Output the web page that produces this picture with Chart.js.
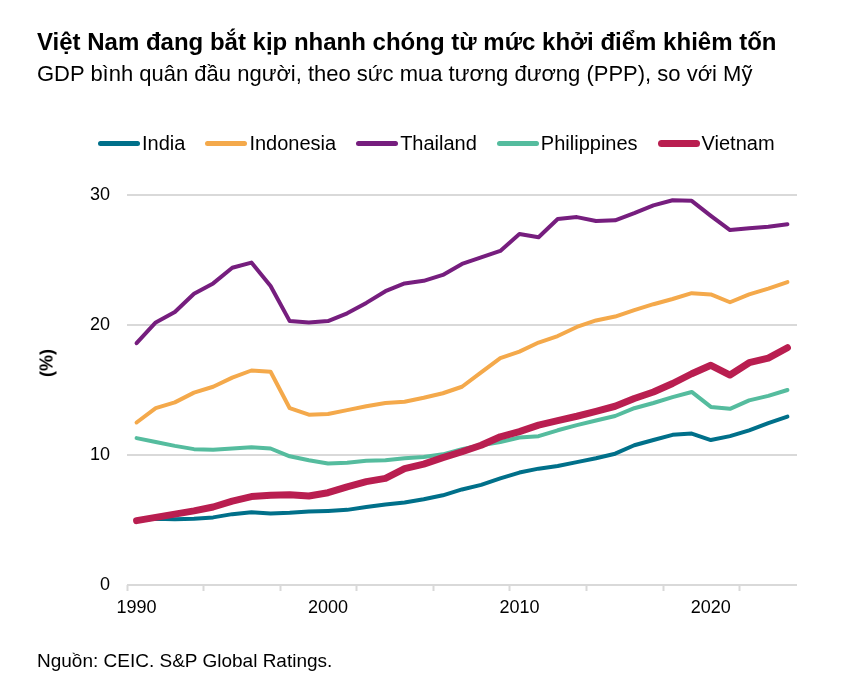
<!DOCTYPE html>
<html>
<head>
<meta charset="utf-8">
<script src="https://cdn.jsdelivr.net/npm/chart.js@4.4.1/dist/chart.umd.min.js"></script>
<style>
  html, body { margin: 0; padding: 0; background: #fff; }
  body { width: 842px; height: 686px; position: relative; overflow: hidden; font-family: "Liberation Sans", Arial, sans-serif; color: #000; }
  #title { position: absolute; left: 37px; top: 28px; font-size: 24px; font-weight: bold; white-space: nowrap; line-height: 28px; }
  #subtitle { position: absolute; left: 37px; top: 61px; font-size: 22px; white-space: nowrap; line-height: 26px; }
  #legend { position: absolute; left: 98px; top: 131px; display: flex; gap: 20px; font-size: 20px; line-height: 24px; white-space: nowrap; }
  .li { display: flex; align-items: center; }
  .sw { display: inline-block; width: 42px; height: 5px; border-radius: 3px; margin-right: 2px; }
  #ytitle { position: absolute; left: 47px; top: 363px; transform: translate(-50%, -50%) rotate(-90deg); font-size: 18px; font-weight: bold; white-space: nowrap; }
  #footer { position: absolute; left: 37px; top: 650px; font-size: 19px; white-space: nowrap; line-height: 22px; }
  #wrap { position: absolute; left: 0; top: 0; width: 842px; height: 686px; }
</style>
</head>
<body>
<div id="wrap"><canvas id="c" width="842" height="686"></canvas></div>
<div id="title">Việt Nam đang bắt kịp nhanh chóng từ mức khởi điểm khiêm tốn</div>
<div id="subtitle">GDP bình quân đầu người, theo sức mua tương đương (PPP), so với Mỹ</div>
<div id="legend"></div>
<div id="ytitle">(%)</div>
<div id="footer">Nguồn: CEIC. S&amp;P Global Ratings.</div>
<script>
// Years 1990–2024
const years = ["1990","1991","1992","1993","1994","1995","1996","1997","1998","1999",
  "2000","2001","2002","2003","2004","2005","2006","2007","2008","2009",
  "2010","2011","2012","2013","2014","2015","2016","2017","2018","2019",
  "2020","2021","2022","2023","2024"];

const india = [5.0,5.1,5.05,5.1,5.2,5.45,5.6,5.5,5.55,5.65,
  5.7,5.78,6.0,6.2,6.35,6.6,6.9,7.35,7.7,8.2,
  8.65,8.95,9.15,9.45,9.75,10.1,10.75,11.15,11.55,11.65,
  11.15,11.45,11.9,12.45,12.95];

const indonesia = [12.5,13.6,14.05,14.8,15.25,15.95,16.5,16.4,13.6,13.1,
  13.15,13.45,13.75,14.0,14.1,14.4,14.75,15.25,16.35,17.45,
  17.95,18.65,19.15,19.85,20.35,20.65,21.15,21.6,22.0,22.45,
  22.35,21.75,22.35,22.8,23.3];

const thailand = [18.6,20.2,21.0,22.4,23.2,24.4,24.8,23.0,20.3,20.2,
  20.3,20.9,21.7,22.6,23.2,23.4,23.85,24.7,25.2,25.7,
  27.0,26.75,28.15,28.3,28.0,28.05,28.6,29.2,29.6,29.55,
  28.4,27.3,27.45,27.55,27.75];

const philippines = [11.3,11.0,10.7,10.45,10.4,10.5,10.6,10.5,9.9,9.6,
  9.35,9.4,9.55,9.6,9.75,9.85,10.05,10.45,10.75,11.0,
  11.35,11.45,11.9,12.3,12.65,13.0,13.6,14.0,14.45,14.85,
  13.7,13.55,14.2,14.55,15.0];

const vietnam = [4.95,5.2,5.45,5.7,6.0,6.45,6.8,6.9,6.95,6.85,
  7.1,7.55,7.95,8.2,8.95,9.3,9.8,10.25,10.75,11.4,
  11.8,12.3,12.65,12.98,13.35,13.75,14.35,14.85,15.5,16.25,
  16.9,16.15,17.1,17.45,18.25];

const seriesNames = ["India","Indonesia","Thailand","Philippines","Vietnam"];
const seriesColors = ["#00708A","#F4A94B","#761E7E","#55BC9E","#B91E50"];
const seriesWidths = [4,4,4,4,7];
const seriesValues = [india, indonesia, thailand, philippines, vietnam];
const yTicks = [0,10,20,30];

// HTML legend
const legend = document.getElementById('legend');
seriesNames.forEach((n, i) => {
  const item = document.createElement('div'); item.className = 'li';
  const sw = document.createElement('span'); sw.className = 'sw';
  sw.style.background = seriesColors[i];
  if (i === 4) { sw.style.height = '7px'; sw.style.borderRadius = '4px'; }
  const t = document.createElement('span'); t.textContent = n;
  item.appendChild(sw); item.appendChild(t); legend.appendChild(item);
});

const datasets = seriesNames.map((n, i) => ({
  label: n,
  data: seriesValues[i],
  borderColor: seriesColors[i],
  backgroundColor: seriesColors[i],
  borderWidth: seriesWidths[i],
  pointRadius: 0,
  tension: 0,
  fill: false,
  borderCapStyle: 'round',
  borderJoinStyle: 'round',
  order: i === 4 ? 0 : 1
}));

new Chart(document.getElementById('c'), {
  type: 'line',
  data: { labels: years, datasets },
  options: {
    responsive: false,
    animation: false,
    devicePixelRatio: 1,
    layout: { padding: { top: 195, right: 45, bottom: 56, left: 0 } },
    plugins: { legend: { display: false }, title: { display: false }, tooltip: { enabled: false } },
    scales: {
      x: {
        type: 'category',
        offset: true,
        afterFit: s => { s.height = 45; },
        border: { display: false },
        grid: {
          offset: true,
          drawOnChartArea: false,
          drawTicks: true,
          tickLength: 6,
          tickWidth: 2,
          tickColor: ctx => (ctx.index % 4 === 0 ? '#d9d9d9' : 'rgba(0,0,0,0)'),
          color: 'rgba(0,0,0,0)'
        },
        ticks: {
          autoSkip: false,
          maxRotation: 0,
          minRotation: 0,
          padding: 6,
          color: '#000',
          font: { family: '"Liberation Sans", Arial, sans-serif', size: 18 },
          callback: function(v, i) { const y = years[i]; return (+y) % 10 === 0 ? y : ''; }
        }
      },
      y: {
        min: 0, max: 30,
        afterFit: s => { s.width = 127; },
        afterBuildTicks: s => { s.ticks = yTicks.map(v => ({ value: v })); },
        border: { display: false },
        grid: { color: '#d9d9d9', lineWidth: 2, drawTicks: false },
        ticks: {
          padding: 17,
          color: '#000',
          font: { family: '"Liberation Sans", Arial, sans-serif', size: 18 }
        }
      }
    }
  }
});
</script>
</body>
</html>
